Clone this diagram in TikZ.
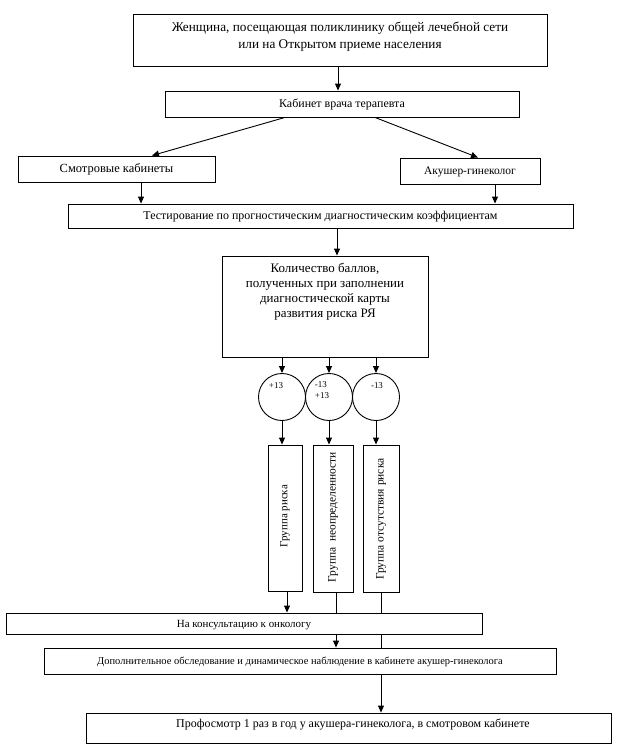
\documentclass[tikz,border=0pt]{standalone}
\usepackage{fontspec}
\setmainfont{Liberation Serif}
\usetikzlibrary{arrows.meta,calc}
\tikzset{
  box/.style={draw, line width=0.9bp, inner sep=0pt, text height=0.74em, text depth=0.02em},
  arr/.style={-{Triangle[length=7bp,width=6bp]}, line width=0.9bp},
  ln/.style={line width=0.9bp},
  circ/.style={draw, circle, minimum size=47bp, inner sep=0pt, line width=0.9bp},
  lbl/.style={inner sep=0pt, align=center},
}
\newcommand{\fs}[1]{\fontsize{#1}{#1}\selectfont}
\begin{document}
\begin{tikzpicture}[x=1bp,y=-1bp]
\useasboundingbox (0,0) rectangle (618,750);
% boxes
\node[box, minimum width=414bp, minimum height=52bp] (top) at (340,40) {};
\node[lbl, font=\fontsize{13.3}{17}\selectfont] (toptext) at (340,36.5) {Женщина, посещающая поликлинику общей лечебной сети\\или на Открытом приеме населения};
\node[box, minimum width=354bp, minimum height=26bp, font=\fs{12}] (kab) at (342,104) {Кабинет врача терапевта};
\node[box, minimum width=197bp, minimum height=26bp, font=\fs{12.5}] (smo) at (116.5,169) {Смотровые кабинеты};
\node[box, minimum width=140bp, minimum height=26bp, font=\fs{11.5}] (aku) at (470,171) {Акушер-гинеколог};
\node[box, minimum width=505bp, minimum height=24bp, font=\fs{12}] (tes) at (320.5,216) {Тестирование по прогностическим диагностическим коэффициентам};
\node[box, minimum width=206bp, minimum height=101bp] (kol) at (325,306.5) {};
\node[lbl, anchor=north, font=\fontsize{13}{15}\selectfont] (koltext) at (325,263) {Количество баллов,\\полученных при заполнении\\диагностической карты\\развития риска РЯ};
% circles
\node[circ] (c1) at (282,397) {};
\node[circ] (c2) at (329,397) {};
\node[circ] (c3) at (376,397) {};
\node[lbl, font=\fs{9}] (c1t) at (276,386) {+13};
\node[lbl, font=\fontsize{9}{11}\selectfont, align=left] (c2t) at (322,390) {-13\\+13};
\node[lbl, font=\fs{9}] (c3t) at (377,386) {-13};
% group boxes
\node[box, minimum width=34bp, minimum height=146bp] (g1) at (285,518) {};
\node[box, minimum width=40bp, minimum height=147bp] (g2) at (333,518.5) {};
\node[box, minimum width=36bp, minimum height=147bp] (g3) at (381,518.5) {};
\node[lbl, rotate=90, font=\fs{11}] (g1t) at (285,516) {Группа риска};
\node[lbl, rotate=90, font=\fs{11.5}] (g2t) at (333,517) {Группа\ \ неопределенности};
\node[lbl, rotate=90, font=\fs{11.5}] (g3t) at (381,519) {Группа отсутствия риска};
% bottom boxes
\node[box, minimum width=476bp, minimum height=21bp, font=\fs{11}] (onc) at (244,623.5) {На консультацию к онкологу};
\node[box, minimum width=512bp, minimum height=26bp, font=\fs{10.5}] (dop) at (300,661) {Дополнительное обследование и динамическое наблюдение в кабинете акушер-гинеколога};
\node[box, minimum width=525bp, minimum height=30bp] (pro) at (348.5,728) {};
\node[lbl, font=\fs{12}] (protext) at (353,725) {Профосмотр 1 раз в год у акушера-гинеколога, в смотровом кабинете};
% connectors
\draw[arr] (top.south -| 338,0) -- (kab.north -| 338,0);
\draw[arr] (kab.south -| 285,0) -- (smo.north -| 152,0);
\draw[arr] (kab.south -| 375,0) -- (aku.north -| 478,0);
\draw[arr] (smo.south -| 141,0) -- (tes.north -| 141,0);
\draw[arr] (aku.south -| 495,0) -- (tes.north -| 495,0);
\draw[arr] (tes.south -| 337,0) -- (kol.north -| 337,0);
\draw[arr] (kol.south -| c1) -- (c1.north);
\draw[arr] (kol.south -| c2) -- (c2.north);
\draw[arr] (kol.south -| c3) -- (c3.north);
\draw[arr] (c1.south) -- (g1.north -| c1);
\draw[arr] (c2.south) -- (g2.north -| c2);
\draw[arr] (c3.south) -- (g3.north -| c3);
\draw[arr] (g1.south -| 287,0) -- (onc.north -| 287,0);
\draw[ln] (g2.south -| 336,0) -- (onc.north -| 336,0);
\draw[ln] (g3.south -| 381,0) -- (onc.north -| 381,0);
\draw[arr] (onc.south -| 336,0) -- (dop.north -| 336,0);
\draw[ln] (onc.south -| 381,0) -- (dop.north -| 381,0);
\draw[arr] (dop.south -| 381,0) -- (pro.north -| 381,0);
\end{tikzpicture}
\end{document}
